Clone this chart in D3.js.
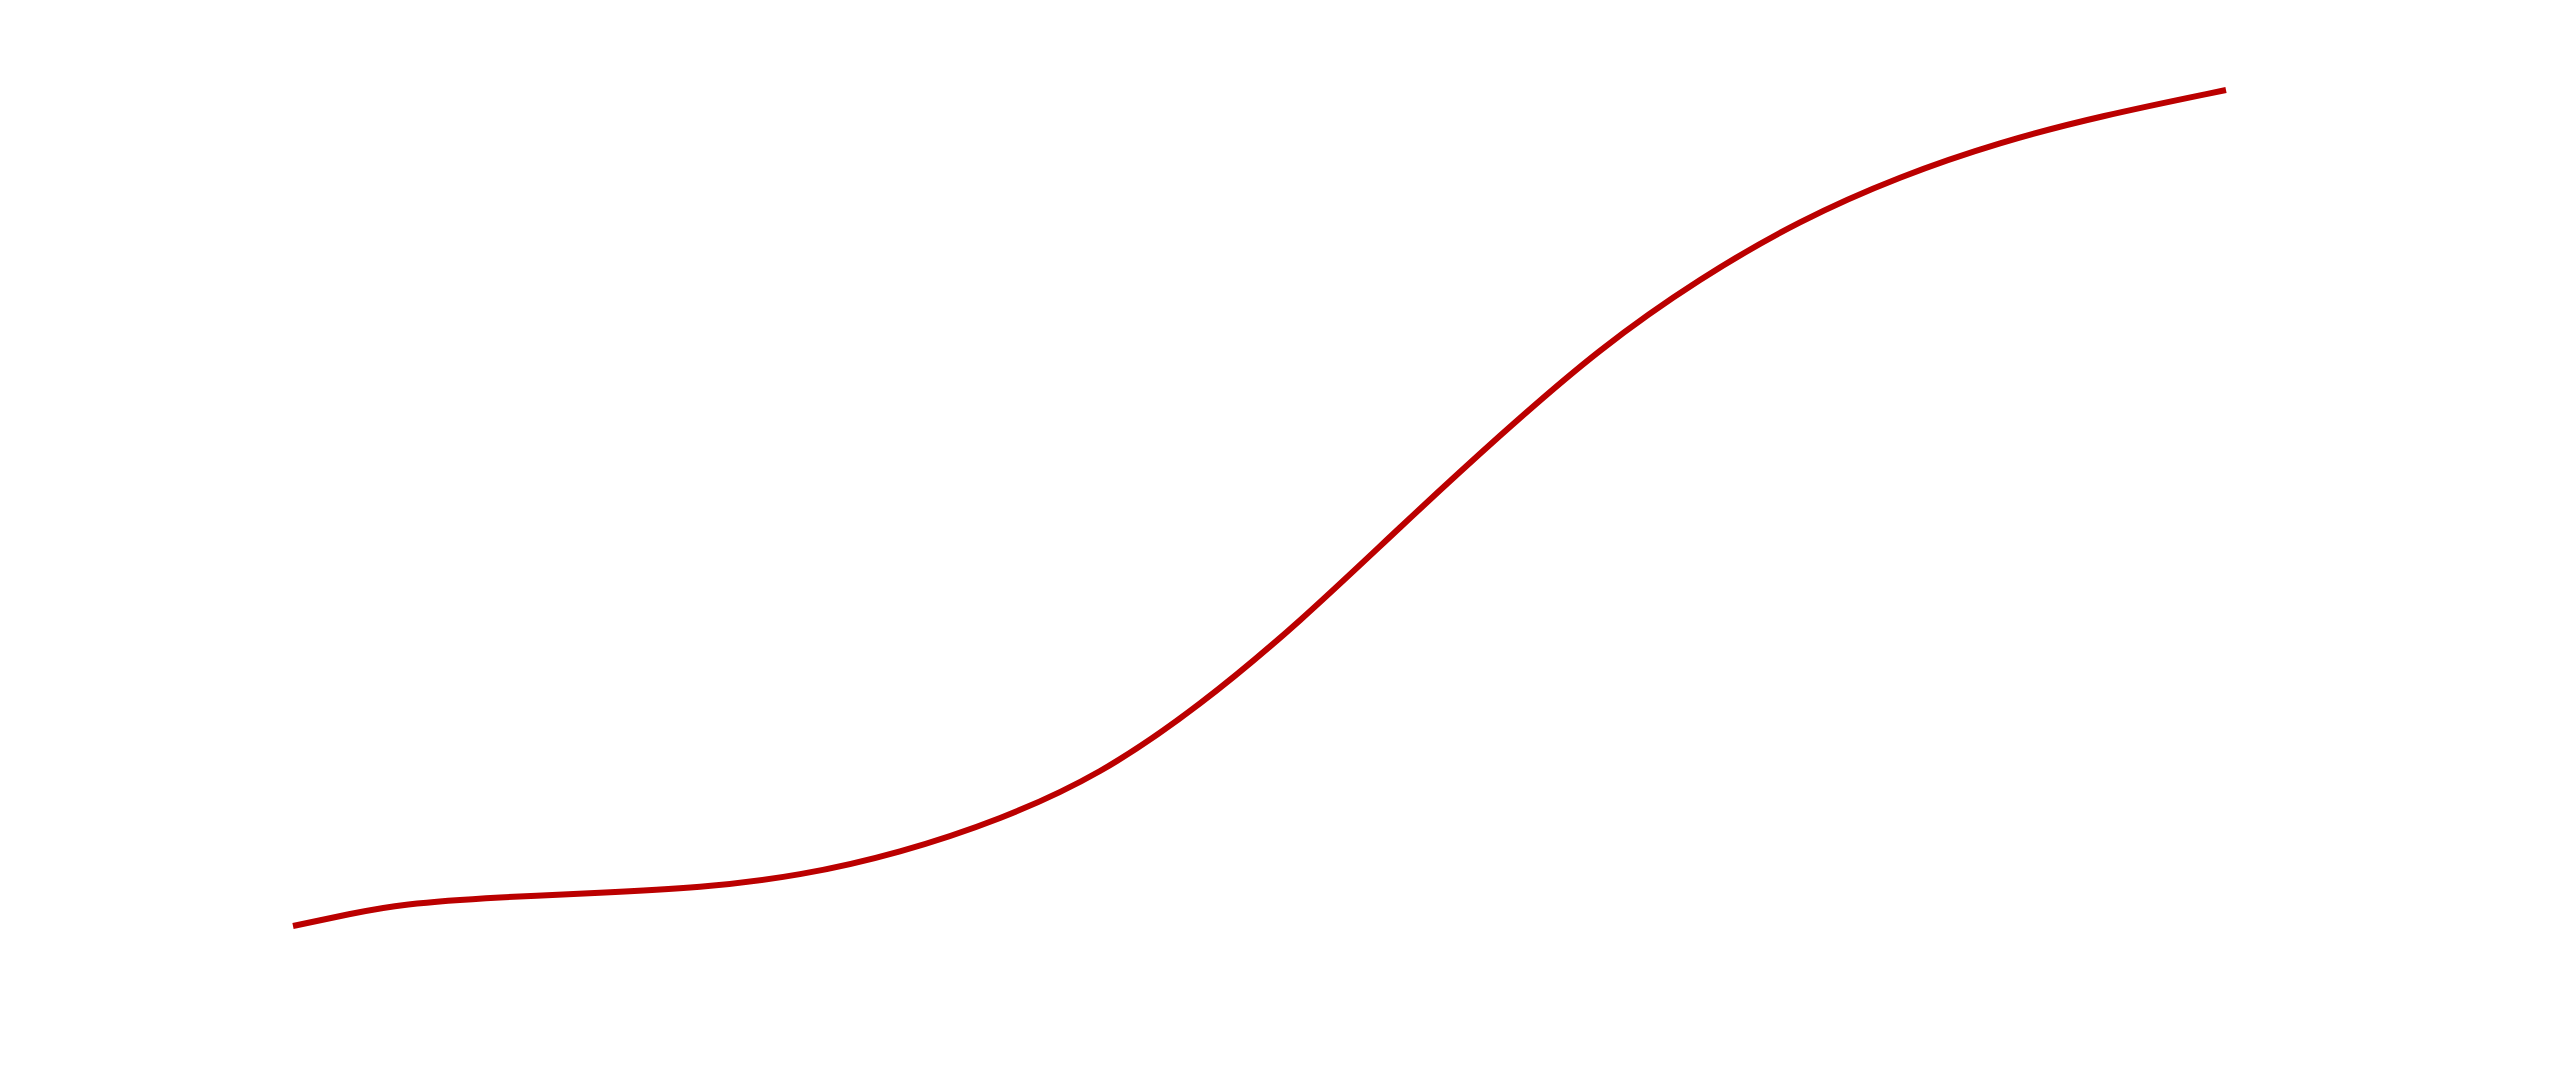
<!DOCTYPE html>
<html>
<head>
<meta charset="utf-8">
<script src="https://cdn.jsdelivr.net/npm/d3@7"></script>
<style>
  html, body { margin: 0; padding: 0; background: #ffffff; }
  svg { display: block; }
</style>
</head>
<body>
<svg id="chart" width="2560" height="1074"></svg>
<script>
// Data (x: progress 0–100, y: value 0–100)
const xValues = [0, 2.95, 5.54, 10.71, 15.88, 21.06, 26.23, 31.40, 36.58, 41.75, 46.92, 52.10, 57.27, 62.44, 67.61, 72.79, 77.96, 83.14, 88.31, 93.48, 100];
const yValues = [0, 1.44, 2.63, 3.47, 3.95, 4.55, 5.98, 8.73, 12.68, 18.06, 26.32, 36.36, 47.73, 58.73, 69.14, 77.51, 84.45, 89.71, 93.78, 96.89, 100];
const xDomain = [0, 100];
const yDomain = [0, 100];

const width = 2560, height = 1074;
const margin = { top: 90, right: 334, bottom: 148, left: 293 };

const svg = d3.select("#chart");

const x = d3.scaleLinear().domain(xDomain).range([margin.left, width - margin.right]);
const y = d3.scaleLinear().domain(yDomain).range([height - margin.bottom, margin.top]);

const data = xValues.map((v, i) => ({ x: v, y: yValues[i] }));

const line = d3.line()
  .x(d => x(d.x))
  .y(d => y(d.y))
  .curve(d3.curveBasis);

svg.append("path")
  .datum(data)
  .attr("fill", "none")
  .attr("stroke", "#bb0000")
  .attr("stroke-width", 6)
  .attr("stroke-linecap", "butt")
  .attr("d", line);
</script>
</body>
</html>
